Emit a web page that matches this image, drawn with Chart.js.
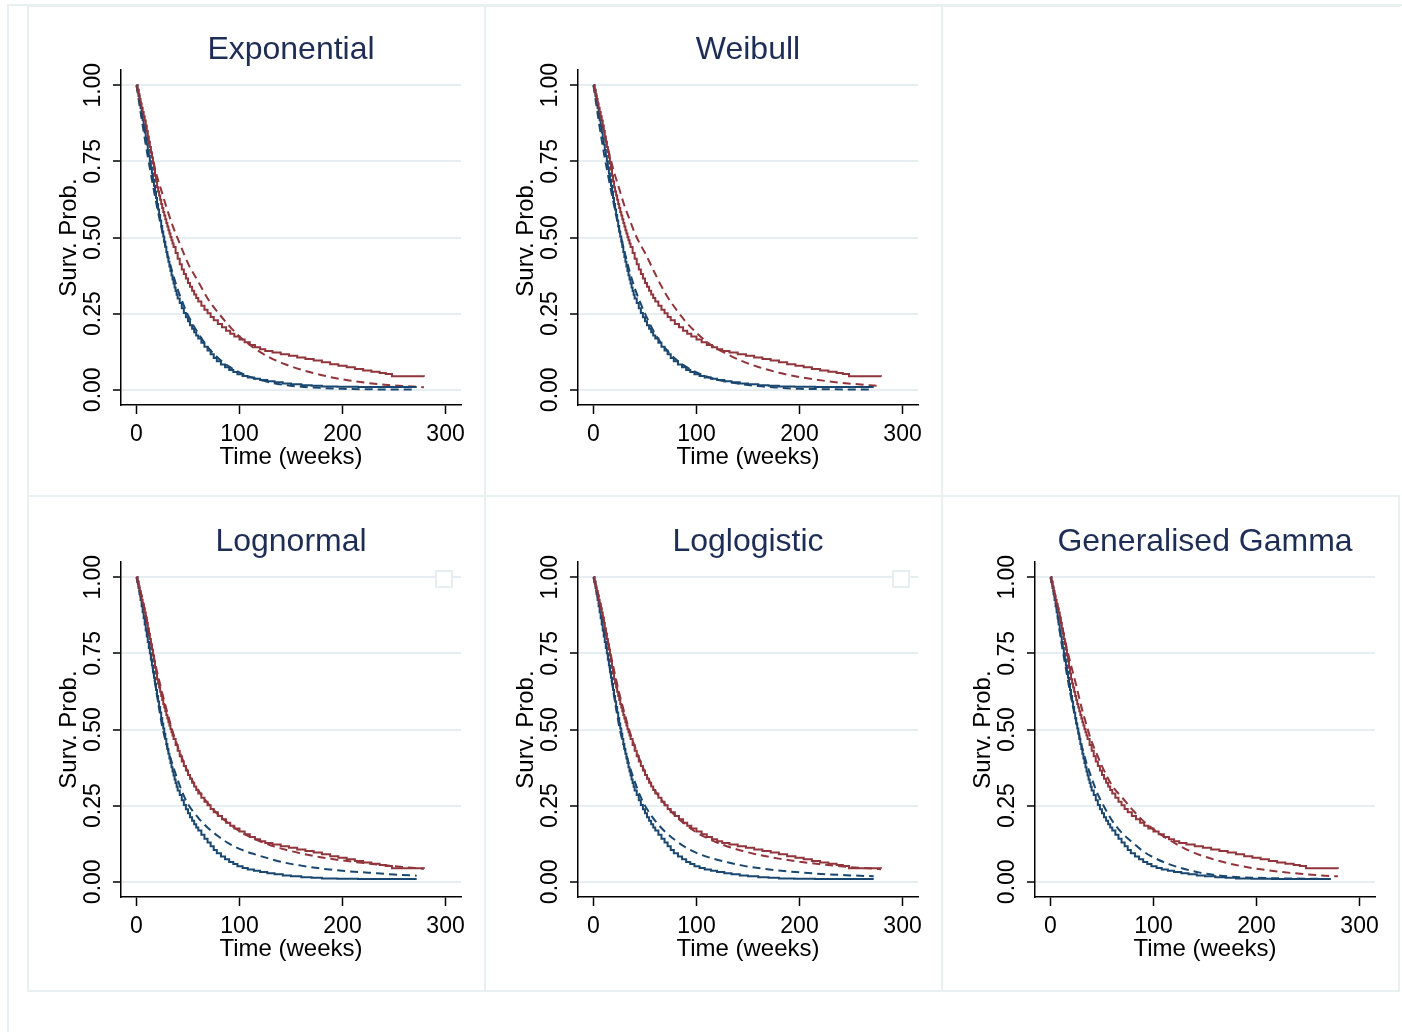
<!DOCTYPE html>
<html>
<head>
<meta charset="utf-8">
<script src="https://cdn.jsdelivr.net/npm/chart.js@4.4.1/dist/chart.umd.min.js"></script>
<style>
  body { margin: 0; background: #fff; width: 1402px; height: 1032px; overflow: hidden; position: relative; }
  .frame { position: absolute; box-sizing: border-box; border: 2px solid #e8f0f2; }
  canvas { position: absolute; }
</style>
</head>
<body>
<div class="frame" style="left:7px;top:4px;width:1400px;height:1040px;border-right:none;border-bottom:none"></div>
<script>
// Kaplan-Meier (step) curves, same data in every panel
const blueKmTime = [0,1,2,3,4,5,6,7,8,9,10,11,12,13,14,15,16,17,18,19,20,21,22,23,24,25,26,27,28,29,30,31,32,33,34,35,36,37,38,39,40,42,44,46,48,50,52,54,56,58,60,63,66,69,72,75,78,82,86,90,94,98,103,108,114,120,127,134,142,150,160,170,180,195,215,272]
const blueKmSurv = [1,0.985,0.965,0.945,0.925,0.905,0.885,0.865,0.845,0.825,0.805,0.787,0.768,0.75,0.73,0.71,0.69,0.67,0.65,0.63,0.61,0.592,0.574,0.556,0.538,0.52,0.503,0.486,0.469,0.452,0.436,0.42,0.405,0.39,0.376,0.362,0.349,0.336,0.324,0.312,0.30,0.285,0.268,0.252,0.238,0.225,0.212,0.2,0.189,0.178,0.168,0.154,0.141,0.129,0.117,0.104,0.094,0.083,0.074,0.065,0.058,0.051,0.045,0.04,0.036,0.032,0.028,0.025,0.021,0.018,0.015,0.013,0.011,0.01,0.009,0.009]
const redKmTime = [0,1,2,3,4,5,6,7,8,9,10,11,12,13,14,15,16,17,18,19,20,21,22,23,24,25,26,27,28,29,30,31,32,33,34,35,36,38,40,42,44,46,48,50,52,54,56,58,60,63,66,69,72,75,79,83,87,91,95,100,105,110,115,120,125,132,140,148,156,164,172,180,188,196,204,212,220,228,236,242,248,279]
const redKmSurv = [1,0.985,0.97,0.955,0.94,0.926,0.912,0.898,0.884,0.868,0.85,0.832,0.814,0.797,0.78,0.763,0.743,0.723,0.703,0.684,0.665,0.651,0.638,0.624,0.61,0.597,0.584,0.572,0.56,0.548,0.536,0.524,0.513,0.502,0.491,0.48,0.469,0.449,0.43,0.412,0.395,0.38,0.365,0.351,0.338,0.325,0.313,0.301,0.29,0.276,0.263,0.251,0.239,0.228,0.216,0.205,0.194,0.184,0.175,0.165,0.156,0.147,0.14,0.133,0.127,0.122,0.117,0.112,0.106,0.101,0.096,0.09,0.084,0.079,0.074,0.068,0.063,0.059,0.055,0.052,0.044,0.043]

// fitted model curves (dashed) at these times
const fitTime = [0,5,10,15,20,25,30,35,40,45,50,60,70,80,90,100,115,130,145,160,180,200,225,250,272,279]
const expRed = [1,0.92,0.84,0.77,0.70,0.645,0.59,0.54,0.497,0.455,0.415,0.355,0.295,0.25,0.21,0.175,0.135,0.105,0.083,0.066,0.048,0.034,0.022,0.014,0.01,0.008]
const expBlue = [1,0.89,0.785,0.69,0.60,0.52,0.445,0.385,0.33,0.285,0.245,0.185,0.137,0.102,0.076,0.057,0.037,0.024,0.015,0.01,0.006,0.003,0.0015,0.001,0.0005,null]
const weiRed = [1,0.925,0.85,0.78,0.715,0.66,0.605,0.56,0.515,0.48,0.45,0.38,0.315,0.265,0.222,0.187,0.145,0.117,0.093,0.075,0.056,0.042,0.029,0.02,0.014,0.013]
const weiBlue = [1,0.885,0.78,0.69,0.605,0.525,0.455,0.39,0.335,0.29,0.25,0.183,0.135,0.1,0.075,0.057,0.038,0.026,0.018,0.012,0.007,0.003,0.002,0.001,0.0005,null]
const lnRed = [1,0.94,0.86,0.77,0.69,0.62,0.555,0.495,0.445,0.40,0.36,0.30,0.255,0.218,0.19,0.166,0.14,0.12,0.105,0.093,0.08,0.07,0.06,0.051,0.045,0.043]
const lnBlue = [1,0.92,0.84,0.72,0.61,0.51,0.44,0.385,0.335,0.29,0.255,0.21,0.175,0.148,0.125,0.108,0.09,0.075,0.062,0.053,0.043,0.036,0.03,0.024,0.02,null]
const llRed = [1,0.94,0.86,0.775,0.695,0.62,0.555,0.495,0.445,0.40,0.36,0.298,0.252,0.215,0.186,0.162,0.136,0.116,0.101,0.089,0.076,0.066,0.056,0.048,0.043,0.041]
const llBlue = [1,0.92,0.84,0.72,0.61,0.51,0.44,0.38,0.33,0.285,0.25,0.2,0.163,0.135,0.112,0.095,0.077,0.064,0.053,0.045,0.037,0.031,0.025,0.021,0.018,null]
const ggRed = [1,0.93,0.86,0.78,0.71,0.645,0.575,0.515,0.46,0.42,0.38,0.315,0.275,0.235,0.2,0.172,0.138,0.11,0.088,0.072,0.055,0.043,0.032,0.024,0.019,0.018]
const ggBlue = [1,0.92,0.80,0.70,0.605,0.525,0.45,0.39,0.34,0.295,0.26,0.2,0.158,0.128,0.1,0.08,0.058,0.042,0.03,0.022,0.016,0.013,0.011,0.01,0.009,null]

const xTicks = [0,100,200,300]
const yTicks = [0,0.25,0.5,0.75,1]
const yTickLabels = ['0.00','0.25','0.50','0.75','1.00']

const panels = [
  { title: 'Exponential', col: 0, row: 0, red: expRed, blue: expBlue, box: false },
  { title: 'Weibull', col: 1, row: 0, red: weiRed, blue: weiBlue, box: false },
  { title: 'Lognormal', col: 0, row: 1, red: lnRed, blue: lnBlue, box: true },
  { title: 'Loglogistic', col: 1, row: 1, red: llRed, blue: llBlue, box: true },
  { title: 'Generalised Gamma', col: 2, row: 1, red: ggRed, blue: ggBlue, box: false }
]

const navy = '#1a476f'
const maroon = '#90353b'
const gridCol = '#e6eef1'
const font = '"Liberation Sans", Arial, sans-serif'
Chart.defaults.font.family = font

// panel frames (the empty top-right cell has no right edge)
for (let r = 0; r < 2; r++) {
  for (let c = 0; c < 3; c++) {
    const d = document.createElement('div')
    d.className = 'frame'
    d.style.left = (27 + 457 * c) + 'px'
    d.style.top = (r === 0 ? 5 : 495) + 'px'
    d.style.width = '459px'
    d.style.height = (r === 0 ? 492 : 497) + 'px'
    if (r === 0 && c === 2) d.style.borderRight = 'none'
    document.body.appendChild(d)
  }
}

const pairs = (xs, ys) => xs.map((x, i) => ({ x: x, y: ys[i] }))

// rotated y tick labels + empty legend key box
const extras = {
  id: 'extras',
  afterDraw(chart, args, opts) {
    const ctx = chart.ctx
    const y = chart.scales.y
    ctx.save()
    ctx.font = '23px ' + font
    ctx.fillStyle = '#000'
    ctx.textAlign = 'center'
    ctx.textBaseline = 'middle'
    yTicks.forEach((v, i) => {
      ctx.save()
      ctx.translate(y.left + 64, y.getPixelForValue(v))
      ctx.rotate(-Math.PI / 2)
      ctx.fillText(yTickLabels[i], 0, 2)
      ctx.restore()
    })
    if (opts.box) {
      const a = chart.chartArea
      ctx.fillStyle = '#fff'
      ctx.strokeStyle = gridCol
      ctx.lineWidth = 2
      ctx.fillRect(a.right - 25, a.top + 9, 16, 16)
      ctx.strokeRect(a.right - 25, a.top + 9, 16, 16)
    }
    ctx.restore()
  }
}

panels.forEach(p => {
  const cv = document.createElement('canvas')
  cv.width = 457
  cv.height = 492
  cv.style.left = (28 + 457 * p.col) + 'px'
  cv.style.top = (4 + 492 * p.row) + 'px'
  document.body.appendChild(cv)

  new Chart(cv.getContext('2d'), {
    type: 'line',
    data: {
      datasets: [
        { data: pairs(redKmTime, redKmSurv), borderColor: maroon, borderWidth: 2, stepped: true },
        { data: pairs(blueKmTime, blueKmSurv), borderColor: navy, borderWidth: 2, stepped: true },
        { data: pairs(fitTime, p.red), borderColor: maroon, borderWidth: 2, borderDash: [8, 5], cubicInterpolationMode: 'monotone' },
        { data: pairs(fitTime, p.blue), borderColor: navy, borderWidth: 2, borderDash: [8, 5], cubicInterpolationMode: 'monotone' }
      ]
    },
    options: {
      responsive: false,
      animation: false,
      devicePixelRatio: 1,
      elements: { point: { radius: 0 } },
      layout: { padding: { left: 0, right: 24, top: 0, bottom: 0 } },
      plugins: {
        legend: { display: false },
        tooltip: { enabled: false },
        title: {
          display: true,
          text: p.title,
          fullSize: false,
          color: '#1e2d55',
          font: { size: 32, weight: 'normal' },
          padding: { top: 27, bottom: 0.6 }
        },
        extras: { box: p.box }
      },
      scales: {
        x: {
          type: 'linear',
          min: -15,
          max: 315,
          afterBuildTicks: s => { s.ticks = xTicks.map(v => ({ value: v })) },
          afterFit: s => { s.height = 91; s.paddingLeft = 0; s.paddingRight = 0 },
          ticks: { color: '#000', font: { size: 23 }, padding: 7, maxRotation: 0 },
          grid: { drawOnChartArea: false, tickLength: 9, tickColor: '#000', tickWidth: 1.5 },
          border: { color: '#000', width: 1.5 },
          title: { display: true, text: 'Time (weeks)', color: '#000', font: { size: 24 }, padding: { top: 0, bottom: 24.6 } }
        },
        y: {
          type: 'linear',
          min: -0.05,
          max: 1.05,
          afterBuildTicks: s => { s.ticks = yTicks.map(v => ({ value: v })) },
          afterFit: s => { s.width = 93; s.paddingTop = 0; s.paddingBottom = 0 },
          ticks: { display: false },
          grid: { color: gridCol, lineWidth: 2, tickLength: 8, tickColor: '#000', tickWidth: 1.5 },
          border: { color: '#000', width: 1.5 },
          title: { display: true, text: 'Surv. Prob.', color: '#000', font: { size: 24 }, padding: { top: 26.6, bottom: 0 } }
        }
      }
    },
    plugins: [extras]
  })
})
</script>
</body>
</html>
